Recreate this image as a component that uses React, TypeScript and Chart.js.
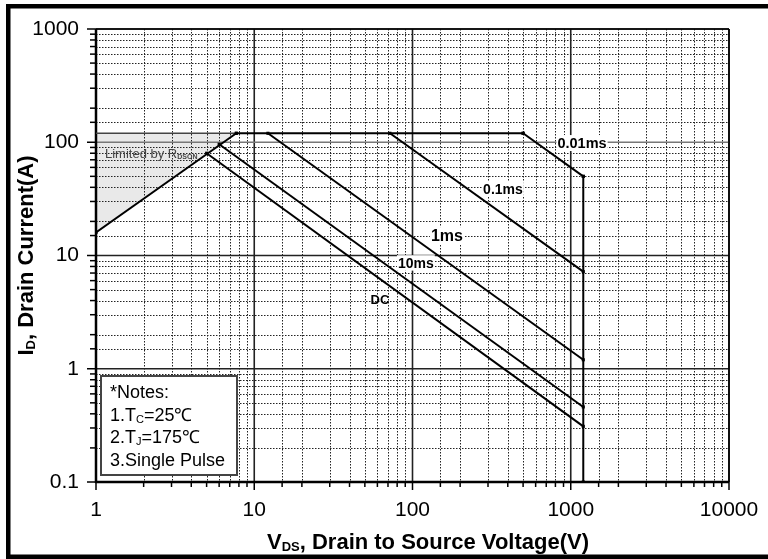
import React, { useEffect, useRef } from 'react';
import { Chart, registerables } from 'chart.js';

Chart.register(...registerables);

// ---- data ----
const xTickLabels = [1, 10, 100, 1000, 10000];
const yTickLabels = [0.1, 1, 10, 100, 1000];

const rdsOnLimit = [{ x: 1, y: 16 }, { x: 7.7, y: 120 }];
const rdsOnCap = [{ x: 1, y: 120 }, { x: 7.7, y: 120 }];
const currentLimit = [{ x: 7.7, y: 120 }, { x: 500, y: 120 }];
const pulse001ms = [{ x: 500, y: 120 }, { x: 1200, y: 50 }];
const pulse01ms = [{ x: 72, y: 120 }, { x: 1200, y: 7.2 }];
const pulse1ms = [{ x: 12.2, y: 120 }, { x: 1200, y: 1.2 }];
const pulse10ms = [{ x: 6, y: 96 }, { x: 1200, y: 0.46 }];
const dcLine = [{ x: 5, y: 80 }, { x: 1200, y: 0.31 }];
const voltageLimit = [{ x: 1200, y: 50 }, { x: 1200, y: 0.1 }];

const curveLabelTexts = ['0.01ms', '0.1ms', '1ms', '10ms', 'DC'];
const curveLabelAnchorsX = [1178, 373, 165, 105, 62.3];
const curveLabelAnchorsY = [98.4, 38.6, 14.9, 8.6, 4.13];

const notesLines = ['*Notes:', '1.T|C|=25℃', '2.T|J|=175℃', '3.Single Pulse'];

// ---- styling helpers ----
const FONT = "'Liberation Sans', Arial, Helvetica, sans-serif";
const isDecade = (v: number) => Math.abs(Math.log10(v) - Math.round(Math.log10(v))) < 1e-6;

type Part = { t: string; font: string; dy?: number; color?: string };

function drawParts(ctx: CanvasRenderingContext2D, parts: Part[], x: number, y: number, align: 'left' | 'center') {
  let w = 0;
  parts.forEach((p) => {
    ctx.font = p.font;
    w += ctx.measureText(p.t).width;
  });
  let cx = align === 'center' ? x - w / 2 : x;
  ctx.textAlign = 'left';
  ctx.textBaseline = 'alphabetic';
  parts.forEach((p) => {
    ctx.font = p.font;
    ctx.fillStyle = p.color || '#000';
    ctx.fillText(p.t, cx, y + (p.dy || 0));
    cx += ctx.measureText(p.t).width;
  });
}

const soaPlugin = {
  id: 'soaDecor',
  beforeDatasetsDraw(chart: any) {
    const { ctx, chartArea: a } = chart;
    const xs = chart.scales.x;
    const ys = chart.scales.y;
    const line = (x1: number, y1: number, x2: number, y2: number) => {
      ctx.beginPath();
      ctx.moveTo(x1, y1);
      ctx.lineTo(x2, y2);
      ctx.stroke();
    };
    ctx.save();
    // minor dotted grid
    ctx.lineWidth = 1;
    ctx.strokeStyle = '#222';
    ctx.setLineDash([1.5, 1.5]);
    xs.ticks.forEach((t: any) => {
      if (isDecade(t.value)) return;
      const px = Math.round(xs.getPixelForValue(t.value)) + 0.5;
      line(px, a.top, px, a.bottom);
    });
    ys.ticks.forEach((t: any) => {
      if (isDecade(t.value)) return;
      const py = Math.round(ys.getPixelForValue(t.value)) + 0.5;
      line(a.left, py, a.right, py);
    });
    ctx.setLineDash([]);
    // major solid grid
    ctx.lineWidth = 1.6;
    xs.ticks.forEach((t: any) => {
      if (!isDecade(t.value)) return;
      const px = xs.getPixelForValue(t.value);
      ctx.strokeStyle = '#222';
      line(px, a.top, px, a.bottom);
    });
    ys.ticks.forEach((t: any) => {
      if (!isDecade(t.value)) return;
      const py = ys.getPixelForValue(t.value);
      ctx.strokeStyle = Math.abs(t.value - 100) < 1e-6 ? '#777' : '#222';
      line(a.left, py, a.right, py);
    });
    // frame of plot
    ctx.strokeStyle = '#000';
    ctx.lineWidth = 1.6;
    line(a.left, a.top, a.right, a.top);
    line(a.right, a.top, a.right, a.bottom);
    ctx.lineWidth = 2.5;
    line(a.left, a.top, a.left, a.bottom + 1);
    line(a.left - 1, a.bottom, a.right, a.bottom);
    // tick marks
    ctx.lineWidth = 1.5;
    ys.ticks.forEach((t: any) => {
      const py = ys.getPixelForValue(t.value);
      const len = isDecade(t.value) ? 9 : 6;
      line(a.left - len, py, a.left, py);
    });
    xs.ticks.forEach((t: any) => {
      const px = xs.getPixelForValue(t.value);
      const len = isDecade(t.value) ? 8 : 5;
      line(px, a.bottom, px, a.bottom + len);
    });
    ctx.restore();
  },
  afterDatasetsDraw(chart: any) {
    const { ctx, chartArea: a } = chart;
    const xs = chart.scales.x;
    const ys = chart.scales.y;
    ctx.save();
    // curve labels
    const sizes = [14.5, 14, 16, 14, 13];
    curveLabelTexts.forEach((txt, i) => {
      const px = xs.getPixelForValue(curveLabelAnchorsX[i]);
      const py = ys.getPixelForValue(curveLabelAnchorsY[i]);
      ctx.font = `bold ${sizes[i]}px ${FONT}`;
      const w = ctx.measureText(txt).width;
      if (i !== 4) {
        ctx.fillStyle = '#fff';
        ctx.fillRect(px - w / 2 - 1, py - sizes[i] * 0.55, w + 2, sizes[i] * 1.1);
      }
      ctx.fillStyle = '#000';
      ctx.textAlign = 'center';
      ctx.textBaseline = 'middle';
      ctx.fillText(txt, px, py + 1);
    });
    // Limited by RDS(on)
    const lx = xs.getPixelForValue(1.14);
    const ly = ys.getPixelForValue(80.4) + 5;
    drawParts(
      ctx,
      [
        { t: 'Limited by R', font: `13px ${FONT}`, color: '#444' },
        { t: 'DSON', font: `bold 7px ${FONT}`, dy: 1, color: '#444' },
      ],
      lx,
      ly,
      'left'
    );
    // notes box
    const bx = a.left + 4;
    const by = a.bottom - 107;
    const bw = 138;
    const bh = 101;
    ctx.fillStyle = '#fff';
    ctx.fillRect(bx, by, bw, bh);
    ctx.strokeStyle = '#444';
    ctx.lineWidth = 2;
    ctx.strokeRect(bx + 1, by + 1, bw - 2, bh - 2);
    notesLines.forEach((ln, i) => {
      const segs = ln.split('|');
      const parts: Part[] = segs.map((s, k) =>
        k === 1 ? { t: s, font: `11px ${FONT}`, dy: 2 } : { t: s, font: `18px ${FONT}` }
      );
      drawParts(ctx, parts, bx + 10, by + 23 + i * 22.5, 'left');
    });
    ctx.restore();
  },
  afterDraw(chart: any) {
    const { ctx, chartArea: a } = chart;
    ctx.save();
    // axis titles
    drawParts(
      ctx,
      [
        { t: 'V', font: `bold 22px ${FONT}` },
        { t: 'DS', font: `bold 13px ${FONT}`, dy: 2 },
        { t: ', Drain to Source Voltage(V)', font: `bold 22px ${FONT}` },
      ],
      428,
      549,
      'center'
    );
    ctx.translate(33, (a.top + a.bottom) / 2);
    ctx.rotate(-Math.PI / 2);
    drawParts(
      ctx,
      [
        { t: 'I', font: `bold 22px ${FONT}` },
        { t: 'D', font: `bold 13px ${FONT}`, dy: 2 },
        { t: ', Drain Current(A)', font: `bold 22px ${FONT}` },
      ],
      0,
      0,
      'center'
    );
    ctx.setTransform(1, 0, 0, 1, 0, 0);
    // outer frame
    ctx.fillStyle = '#000';
    ctx.fillRect(6, 4, 762, 4.5);
    ctx.fillRect(6, 4, 4.5, 555);
    ctx.fillRect(6, 554.5, 762, 4.5);
    ctx.restore();
  },
};

const lineDs = (data: { x: number; y: number }[], extra: any = {}) => ({
  data,
  borderColor: '#000',
  borderWidth: 2,
  pointRadius: 2.2,
  pointStyle: 'rect',
  pointBackgroundColor: '#000',
  pointBorderWidth: 0,
  fill: false,
  ...extra,
});

const tickLabel = (list: number[]) => (value: any) => {
  const v = Number(value);
  const hit = list.find((t) => Math.abs(Math.log10(t) - Math.log10(v)) < 1e-6);
  return hit !== undefined ? String(hit) : '';
};

export default function App() {
  const ref = useRef<HTMLCanvasElement>(null);
  useEffect(() => {
    if (!ref.current) return;
    const chart = new Chart(ref.current, {
      type: 'line',
      data: {
        datasets: [
          lineDs(rdsOnLimit, { fill: { value: 120 }, backgroundColor: '#e9e9e9' }),
          lineDs(rdsOnCap, { borderColor: '#444', borderWidth: 1.5, pointRadius: 0 }),
          lineDs(currentLimit),
          lineDs(pulse001ms),
          lineDs(pulse01ms),
          lineDs(pulse1ms),
          lineDs(pulse10ms),
          lineDs(dcLine),
          lineDs(voltageLimit),
        ],
      },
      options: {
        responsive: false,
        animation: false,
        events: [],
        layout: { padding: { top: 29, right: 39, bottom: 0, left: 0 } },
        plugins: {
          legend: { display: false },
          tooltip: { enabled: false },
          filler: { drawTime: 'beforeDraw' },
        },
        scales: {
          x: {
            type: 'logarithmic',
            position: 'bottom',
            min: 1,
            max: 10000,
            grid: { display: false, drawTicks: false },
            border: { display: false },
            ticks: {
              autoSkip: false,
              maxRotation: 0,
              padding: 16,
              color: '#000',
              font: { family: FONT, size: 21 },
              callback: tickLabel(xTickLabels),
            },
            afterFit: (s: any) => {
              s.height = 77;
              s.paddingLeft = 0;
              s.paddingRight = 0;
            },
          },
          y: {
            type: 'logarithmic',
            position: 'left',
            min: 0.1,
            max: 1000,
            grid: { display: false, drawTicks: false },
            border: { display: false },
            ticks: {
              autoSkip: false,
              padding: 17,
              color: '#000',
              font: { family: FONT, size: 21 },
              callback: tickLabel(yTickLabels),
            },
            afterFit: (s: any) => {
              s.width = 96;
              s.paddingTop = 0;
              s.paddingBottom = 0;
            },
          },
        },
      } as any,
      plugins: [soaPlugin],
    });
    return () => chart.destroy();
  }, []);
  return (
    <div style={{ position: 'absolute', left: 0, top: 0, width: 768, height: 559, background: '#fff' }}>
      <canvas ref={ref} width={768} height={559} style={{ display: 'block', width: 768, height: 559 }} />
    </div>
  );
}
